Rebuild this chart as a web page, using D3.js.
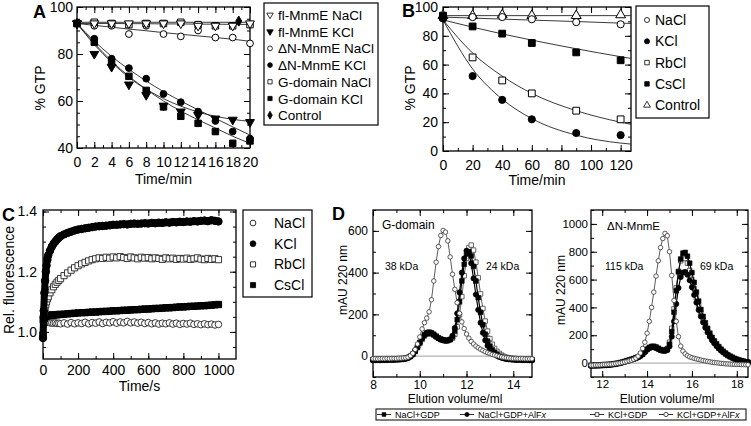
<!DOCTYPE html>
<html>
<head>
<meta charset="utf-8">
<script src="https://cdn.jsdelivr.net/npm/d3@7"></script>
<style>
  body { margin: 0; background: #fff; }
  svg { display: block; }
</style>
</head>
<body>
<div id="fig"></div>
<script>
// ---------- Panel A: % GTP vs time (min) ----------
var aTime = [0, 2, 4, 6, 8, 10, 12, 14, 16, 18, 20];
var aFlNa = [93, 93, 93, 93, 93, 93, 93, 92, 92, 92, 93];
var aFlK = [93, 80, 74.5, 67, 62.5, 58, 55.5, 54, 52.5, 52, 51];
var aDnNa = [93, 92, 92, 88.5, 92, 88.5, 87.5, 90, 87, 87, 84.5];
var aDnK = [93, 86.5, 78, 74, 69.5, 63, 59.5, 55.5, 51.5, 47, 44];
var aGNa = [93, 93.5, 93, 92.5, 93, 93, 93.5, 92.5, 92, 92, 92.5];
var aGK = [93, 85, 76.5, 70.5, 64.5, 57.5, 53.5, 50.5, 47, 42, 43];
var aCtrlTime = [0, 18.7];
var aCtrl = [93, 94];
// fitted curves
var aFitFlK = [93, 84, 76.5, 70, 65, 61, 57.8, 55.3, 53.5, 52.2, 51.3];
var aFitDnK = [93, 85.5, 79, 73.5, 68.5, 64, 60, 56.2, 52.6, 49, 45.5];
var aFitGK = [93, 84.5, 77, 70.5, 65, 60, 55.7, 52, 48.5, 45, 42];
var aFitDnNa = [93, 92.2, 91.4, 90.6, 89.9, 89.1, 88.4, 87.7, 87, 86.3, 85.4];
var aFitFlNa = [93, 93, 93, 92.9, 92.9, 92.8, 92.8, 92.7, 92.7, 92.6, 92.6];
var aFitGNa = [93.5, 93.5, 93.5, 93.5, 93.5, 93.5, 93.5, 93.5, 93.5, 93.5, 93.5];

// ---------- Panel B ----------
var bTime = [0, 20, 40, 60, 90, 120];
var bNa = [93, 93, 93, 91.5, 89.5, 88];
var bK = [92, 52, 35.5, 22, 12.5, 11];
var bRb = [93, 65, 49, 40, 28, 22];
var bCs = [94, 86.5, 81.5, 75, 68.5, 63];
var bCtrl = [94, 94, 94.5, 94, 94, 94.5];
var bFitTime = [0, 20, 40, 60, 90, 120, 127];
var bFitNa = [93, 92.3, 91.6, 90.9, 89.9, 88.8, 88.6];
var bFitK = [91, 57, 36, 22.5, 11, 5.5, 4.8];
var bFitRb = [91, 68, 52, 40, 28, 20, 18.5];
var bFitCs = [91, 86, 81.3, 77, 71, 65.5, 64.3];
var bFitCtrl = [94, 94, 94, 94, 94, 94, 94];

// ---------- Panel C: relative fluorescence vs time (s) ----------
var cTime = [0, 4, 8, 12, 16, 20, 25, 30, 40, 50, 60, 70, 80, 90, 100,
  120, 140, 160, 180, 200, 220, 240, 260, 280, 300, 320, 340, 360, 380, 400,
  420, 440, 460, 480, 500, 520, 540, 560, 580, 600, 620, 640, 660, 680, 700,
  720, 740, 760, 780, 800, 820, 840, 860, 880, 900, 920, 940, 960, 980, 1000];
var cK = [0.98, 1.07, 1.13, 1.17, 1.2, 1.22, 1.24, 1.255, 1.27, 1.283, 1.293, 1.3, 1.307, 1.313, 1.318,
  1.324, 1.329, 1.333, 1.337, 1.34, 1.342, 1.344, 1.346, 1.348, 1.35, 1.351, 1.352, 1.353, 1.354, 1.356,
  1.356, 1.357, 1.358, 1.357, 1.359, 1.36, 1.359, 1.36, 1.361, 1.36, 1.362, 1.361, 1.363, 1.362, 1.364,
  1.363, 1.365, 1.364, 1.366, 1.365, 1.367, 1.366, 1.368, 1.367, 1.369, 1.37, 1.368, 1.371, 1.369, 1.367];
var cRb = [1.04, 1.06, 1.07, 1.08, 1.09, 1.1, 1.11, 1.117, 1.13, 1.14, 1.15, 1.158, 1.165, 1.171, 1.177,
  1.187, 1.196, 1.205, 1.213, 1.22, 1.226, 1.231, 1.236, 1.24, 1.243, 1.246, 1.244, 1.248, 1.245, 1.249,
  1.246, 1.25, 1.247, 1.244, 1.249, 1.246, 1.243, 1.248, 1.245, 1.247, 1.243, 1.246, 1.244, 1.241, 1.246,
  1.243, 1.245, 1.241, 1.244, 1.242, 1.245, 1.241, 1.243, 1.246, 1.242, 1.24, 1.244, 1.241, 1.243, 1.24];
var cCs = [0.99, 1.03, 1.045, 1.05, 1.052, 1.053, 1.054, 1.055, 1.055, 1.056, 1.056, 1.057, 1.057, 1.058, 1.058,
  1.059, 1.06, 1.061, 1.062, 1.063, 1.064, 1.064, 1.065, 1.066, 1.066, 1.067, 1.068, 1.068, 1.069, 1.07,
  1.07, 1.071, 1.072, 1.072, 1.073, 1.074, 1.074, 1.075, 1.076, 1.076, 1.077, 1.078, 1.078, 1.079, 1.08,
  1.08, 1.081, 1.082, 1.083, 1.083, 1.084, 1.085, 1.085, 1.086, 1.087, 1.087, 1.088, 1.089, 1.09, 1.091];
var cNa = [1.05, 1.045, 1.04, 1.038, 1.036, 1.035, 1.033, 1.032, 1.03, 1.03, 1.029, 1.03, 1.028, 1.029, 1.027,
  1.03, 1.026, 1.031, 1.027, 1.03, 1.028, 1.032, 1.027, 1.031, 1.029, 1.033, 1.028, 1.032, 1.03, 1.034,
  1.029, 1.033, 1.03, 1.035, 1.03, 1.033, 1.029, 1.032, 1.028, 1.031, 1.027, 1.03, 1.026, 1.029, 1.027,
  1.03, 1.026, 1.029, 1.025, 1.028, 1.026, 1.029, 1.025, 1.027, 1.024, 1.027, 1.024, 1.026, 1.023, 1.025];

// ---------- Panel D: elution profiles (mAU 220 nm) ----------
// G-domain, 8.0 .. 14.8 ml every 0.1 ml
var gVol = d3.range(0, 69).map(function (i) { return +(8 + i * 0.1).toFixed(1); });
var gNaGdp = [-18, -18, -18, -17, -18, -17, -17, -17, -16, -16,
  -16, -15, -14, -13, -11, -7, -1, 9, 24, 44,
  66, 87, 103, 112, 115, 112, 105, 96, 88, 82,
  78, 76, 76, 80, 92, 120, 175, 260, 360, 440,
  490, 500, 480, 430, 360, 280, 210, 150, 105, 72,
  48, 30, 18, 8, 0, -5, -9, -12, -14, -15,
  -16, -16, -17, -17, -17, -18, -18, -18, -18];
var gNaAlf = [-20, -20, -19, -20, -19, -19, -19, -18, -18, -18,
  -17, -17, -16, -15, -13, -9, -3, 7, 22, 42,
  63, 84, 100, 109, 112, 109, 102, 93, 85, 79,
  75, 73, 74, 80, 98, 135, 205, 305, 400, 468,
  505, 492, 445, 372, 295, 222, 160, 112, 76, 50,
  32, 19, 9, 2, -4, -8, -11, -14, -15, -16,
  -17, -18, -18, -18, -19, -19, -19, -20, -20];
var gKGdp = [-15, -15, -14, -15, -14, -14, -14, -13, -13, -13,
  -13, -12, -12, -11, -9, -6, 0, 9, 22, 40,
  60, 80, 96, 105, 108, 106, 100, 92, 85, 80,
  77, 75, 75, 78, 86, 104, 140, 198, 285, 385,
  468, 520, 532, 508, 450, 375, 298, 228, 168, 120,
  84, 57, 37, 23, 13, 5, -1, -5, -8, -10,
  -11, -12, -13, -13, -14, -14, -14, -15, -15];
var gKAlf = [-12, -12, -13, -12, -12, -12, -11, -12, -11, -11,
  -11, -10, -10, -9, -8, -5, 2, 14, 32, 58,
  92, 130, 160, 182, 212, 270, 360, 450, 525, 578,
  602, 594, 552, 475, 392, 320, 256, 205, 164, 132,
  106, 86, 70, 58, 48, 40, 33, 27, 21, 16,
  12, 8, 5, 2, -1, -4, -6, -8, -9, -10,
  -11, -11, -12, -12, -12, -13, -13, -13, -13];

// ΔN-MnmE, 11.5 .. 18.5 ml every 0.1 ml
var nVol = d3.range(0, 71).map(function (i) { return +(11.5 + i * 0.1).toFixed(1); });
var nNaGdp = [-18, -18, -17, -17, -16,
  -15, -14, -13, -12, -10, -8, -5, -2, 2, 6,
  11, 16, 21, 26, 31, 37, 44, 53, 65, 82,
  100, 113, 120, 121, 116, 107, 98, 93, 92, 100,
  135, 225, 365, 520, 655, 748, 790, 795, 768, 718,
  650, 580, 510, 445, 385, 335, 290, 250, 215, 185,
  160, 138, 118, 100, 85, 72, 60, 50, 42, 34,
  28, 22, 17, 13, 9, 6];
var nNaAlf = [-20, -19, -19, -18, -18,
  -17, -16, -15, -14, -12, -10, -7, -4, 0, 4,
  9, 14, 19, 24, 29, 35, 42, 51, 63, 79,
  96, 108, 114, 114, 109, 101, 93, 88, 87, 93,
  120, 190, 300, 425, 540, 618, 650, 655, 635, 595,
  545, 490, 435, 382, 335, 292, 254, 220, 190, 164,
  142, 122, 105, 90, 77, 65, 55, 46, 38, 31,
  25, 20, 16, 12, 9, 6];
var nKGdp = [-14, -14, -13, -13, -12,
  -11, -10, -9, -8, -6, -4, -2, 1, 4, 8,
  12, 17, 22, 27, 32, 38, 45, 54, 66, 82,
  98, 108, 114, 114, 109, 101, 94, 90, 92, 105,
  150, 250, 390, 540, 660, 735, 762, 752, 718, 665,
  600, 535, 470, 410, 355, 308, 266, 230, 198, 170,
  146, 125, 107, 91, 77, 65, 54, 45, 37, 30,
  24, 19, 15, 11, 8, 5];
var nKAlf = [-15, -15, -14, -14, -13,
  -12, -11, -10, -9, -8, -6, -4, -2, 1, 4,
  8, 12, 16, 21, 27, 36, 50, 72, 105, 150,
  215, 300, 400, 510, 625, 735, 830, 895, 932, 915,
  800, 630, 450, 300, 190, 122, 86, 66, 53, 45,
  39, 34, 30, 26, 22, 18, 15, 12, 9, 6,
  4, 2, 0, -2, -3, -5, -6, -7, -8, -9,
  -10, -10, -11, -11, -12, -12];

// ---------- drawing ----------
var FONT = "'Liberation Sans', Arial, Helvetica, sans-serif";

var svg = d3.select("#fig")
  .append("svg")
  .attr("width", 751)
  .attr("height", 426)
  .style("font-family", FONT);

svg.append("rect").attr("width", 751).attr("height", 426).attr("fill", "#fff");

function makePanel(p) {
  var g = svg.append("g").attr("transform", `translate(${p.left},${p.top})`);
  var x = d3.scaleLinear().domain(p.xDomain).range([0, p.width]);
  var y = d3.scaleLinear().domain(p.yDomain).range([p.height, 0]);

  function tidy(sel) {
    sel.select(".domain").remove();
    sel.attr("font-family", null).attr("font-size", p.fontSize);
    sel.selectAll("line").attr("stroke-width", 1);
  }

  // minor ticks, all four sides, pointing in
  g.append("g").attr("transform", `translate(0,${p.height})`)
    .call(d3.axisBottom(x).tickValues(p.xMinor).tickSize(-3).tickFormat("")).call(tidy);
  g.append("g")
    .call(d3.axisTop(x).tickValues(p.xMinor).tickSize(-3).tickFormat("")).call(tidy);
  g.append("g")
    .call(d3.axisLeft(y).tickValues(p.yMinor).tickSize(-3).tickFormat("")).call(tidy);
  g.append("g").attr("transform", `translate(${p.width},0)`)
    .call(d3.axisRight(y).tickValues(p.yMinor).tickSize(-3).tickFormat("")).call(tidy);

  // major ticks with labels
  g.append("g").attr("transform", `translate(0,${p.height})`)
    .call(d3.axisBottom(x).tickValues(p.xMajor).tickSize(-6).tickPadding(p.xPad).tickFormat(p.xFmt)).call(tidy);
  g.append("g")
    .call(d3.axisTop(x).tickValues(p.xMajor).tickSize(-6).tickFormat("")).call(tidy);
  g.append("g")
    .call(d3.axisLeft(y).tickValues(p.yMajor).tickSize(-6).tickPadding(p.yPad).tickFormat(p.yFmt)).call(tidy);
  g.append("g").attr("transform", `translate(${p.width},0)`)
    .call(d3.axisRight(y).tickValues(p.yMajor).tickSize(-6).tickFormat("")).call(tidy);

  g.append("rect")
    .attr("width", p.width).attr("height", p.height)
    .attr("fill", "none").attr("stroke", "#000").attr("stroke-width", 1.3);

  return { g: g, x: x, y: y };
}

function drawLine(P, xs, ys, o) {
  o = o || {};
  P.g.append("path").datum(xs)
    .attr("d", d3.line()
      .x(function (d) { return P.x(d); })
      .y(function (d, i) { return P.y(ys[i]); })
      .curve(o.curve || d3.curveLinear))
    .attr("fill", "none")
    .attr("stroke", o.stroke || "#000")
    .attr("stroke-width", o.sw || 1)
    .attr("stroke-linecap", o.cap || "butt")
    .attr("stroke-linejoin", "round");
}

function drawMarks(P, xs, ys, o) {
  P.g.append("g").selectAll("path").data(xs).join("path")
    .attr("d", d3.symbol().type(o.type).size(o.size))
    .attr("transform", function (d, i) {
      return `translate(${P.x(d)},${P.y(ys[i])})` + (o.rot ? " rotate(180)" : "");
    })
    .attr("fill", o.fill ? "#000" : "#fff")
    .attr("stroke", o.stroke || "#000")
    .attr("stroke-width", o.sw || 1);
}

function label(txt, x, y, size, opts) {
  opts = opts || {};
  var t = svg.append("text")
    .attr("x", x).attr("y", y)
    .attr("font-size", size)
    .attr("text-anchor", opts.anchor || "start")
    .attr("font-weight", opts.bold ? "bold" : null)
    .text(txt);
  return t;
}

function vlabel(txt, cx, cy, size) {
  svg.append("text")
    .attr("transform", `translate(${cx},${cy}) rotate(-90)`)
    .attr("text-anchor", "middle")
    .attr("dy", "0.35em")
    .attr("font-size", size)
    .text(txt);
}

var tri = d3.symbolTriangle, cir = d3.symbolCircle, sq = d3.symbolSquare, dia = d3.symbolDiamond;

// ===== Panel A =====
var A = makePanel({
  left: 77, top: 7, width: 173, height: 141,
  xDomain: [0, 20], yDomain: [40, 100],
  xMajor: d3.range(0, 21, 2), xMinor: d3.range(0, 21, 1),
  yMajor: [40, 60, 80, 100], yMinor: d3.range(40, 101, 5),
  xFmt: d3.format("d"), yFmt: d3.format("d"),
  xPad: 9, yPad: 4, fontSize: 14
});
var smooth = d3.curveMonotoneX;
[aFitFlNa, aFitGNa, aFitDnNa, aFitFlK, aFitDnK, aFitGK].forEach(function (f) {
  drawLine(A, aTime, f, { curve: smooth, sw: 0.9, stroke: "#222" });
});
drawMarks(A, aTime, aDnNa, { type: cir, size: 36 });
drawMarks(A, aTime, aGNa, { type: sq, size: 42 });
drawMarks(A, aTime, aFlNa, { type: tri, size: 34, rot: true });
drawMarks(A, aTime, aDnK, { type: cir, size: 36, fill: true });
drawMarks(A, aTime, aGK, { type: sq, size: 42, fill: true });
drawMarks(A, aTime, aFlK, { type: tri, size: 34, rot: true, fill: true });
drawMarks(A, aCtrlTime, aCtrl, { type: dia, size: 30, fill: true });

label("A", 33, 18, 18, { bold: true });
label("Time/min", 163.5, 184, 14, { anchor: "middle" });
vlabel("% GTP", 40, 88, 14);

// legend A
var legA = [
  ["fl-MnmE NaCl", tri, false, true],
  ["fl-MnmE KCl", tri, true, true],
  ["\u0394N-MnmE NaCl", cir, false, false],
  ["\u0394N-MnmE KCl", cir, true, false],
  ["G-domain NaCl", sq, false, false],
  ["G-domain KCl", sq, true, false],
  ["Control", dia, true, false]
];
svg.append("rect").attr("x", 264).attr("y", 3).attr("width", 114).attr("height", 122)
  .attr("fill", "#fff").attr("stroke", "#000").attr("stroke-width", 1.2);
legA.forEach(function (e, i) {
  var cy = 15 + i * 16.7;
  svg.append("path")
    .attr("d", d3.symbol().type(e[1]).size(18)())
    .attr("transform", `translate(270,${cy})` + (e[3] ? " rotate(180)" : ""))
    .attr("fill", e[2] ? "#000" : "#fff").attr("stroke", "#000").attr("stroke-width", 0.8);
  label(e[0], 278, cy + 5, 13.5);
});

// ===== Panel B =====
var B = makePanel({
  left: 443, top: 7, width: 188, height: 144,
  xDomain: [0, 127], yDomain: [0, 100],
  xMajor: d3.range(0, 121, 20), xMinor: d3.range(0, 127, 10),
  yMajor: d3.range(0, 101, 20), yMinor: d3.range(0, 101, 10),
  xFmt: d3.format("d"), yFmt: d3.format("d"),
  xPad: 9, yPad: 5, fontSize: 14
});
[bFitCtrl, bFitNa, bFitCs, bFitRb, bFitK].forEach(function (f) {
  drawLine(B, bFitTime, f, { curve: smooth, sw: 0.9, stroke: "#222" });
});
drawMarks(B, bTime, bCtrl, { type: tri, size: 42 });
drawMarks(B, bTime, bNa, { type: cir, size: 40 });
drawMarks(B, bTime, bRb, { type: sq, size: 46 });
drawMarks(B, bTime, bCs, { type: sq, size: 46, fill: true });
drawMarks(B, bTime, bK, { type: cir, size: 40, fill: true });

label("B", 402, 17, 18, { bold: true });
label("Time/min", 537, 185, 14, { anchor: "middle" });
vlabel("% GTP", 410, 88, 14);

var legB = [
  ["NaCl", cir, false], ["KCl", cir, true], ["RbCl", sq, false],
  ["CsCl", sq, true], ["Control", tri, false]
];
svg.append("rect").attr("x", 636).attr("y", 6).attr("width", 73).attr("height", 112)
  .attr("fill", "#fff").attr("stroke", "#000").attr("stroke-width", 1.2);
legB.forEach(function (e, i) {
  var cy = 20 + i * 21.3;
  svg.append("path")
    .attr("d", d3.symbol().type(e[1]).size(20)())
    .attr("transform", `translate(647,${cy})`)
    .attr("fill", e[2] ? "#000" : "#fff").attr("stroke", "#000").attr("stroke-width", 0.8);
  label(e[0], 655, cy + 5, 14);
});

// ===== Panel C =====
var C = makePanel({
  left: 43, top: 210, width: 193, height: 149,
  xDomain: [0, 1100], yDomain: [0.91, 1.405],
  xMajor: d3.range(0, 1001, 200), xMinor: d3.range(0, 1100, 100),
  yMajor: [1.0, 1.2, 1.4], yMinor: [0.95, 1.0, 1.05, 1.1, 1.15, 1.2, 1.25, 1.3, 1.35, 1.4],
  xFmt: d3.format("d"), yFmt: d3.format(".1f"),
  xPad: 6, yPad: 6, fontSize: 14
});
drawMarks(C, cTime, cNa, { type: cir, size: 34, stroke: "#222", sw: 0.9 });
drawLine(C, cTime, cCs, { sw: 6, cap: "round" });
drawMarks(C, cTime, cCs, { type: sq, size: 40, fill: true });
drawMarks(C, cTime, cRb, { type: sq, size: 38, stroke: "#222", sw: 0.9 });
drawLine(C, cTime, cK, { sw: 7, cap: "round" });
drawMarks(C, cTime, cK, { type: cir, size: 44, fill: true });

label("C", 2, 221, 18, { bold: true });
label("Time/s", 139.5, 391, 14, { anchor: "middle" });
vlabel("Rel. fluorescence", 9, 280, 14);

var legC = [["NaCl", cir, false], ["KCl", cir, true], ["RbCl", sq, false], ["CsCl", sq, true]];
svg.append("rect").attr("x", 243).attr("y", 210).attr("width", 69).attr("height", 87)
  .attr("fill", "#fff").attr("stroke", "#000").attr("stroke-width", 1.2);
legC.forEach(function (e, i) {
  var cy = 223 + i * 20.7;
  svg.append("path")
    .attr("d", d3.symbol().type(e[1]).size(26)())
    .attr("transform", `translate(253,${cy})`)
    .attr("fill", e[2] ? "#000" : "#fff").attr("stroke", "#000").attr("stroke-width", 0.8);
  label(e[0], 274, cy + 5, 14);
});

// ===== Panel D =====
function elution(P, vol, series) {
  P.g.append("line")
    .attr("x1", 0).attr("x2", P.x.range()[1])
    .attr("y1", P.y(0)).attr("y2", P.y(0))
    .attr("stroke", "#888").attr("stroke-width", 0.8);
  // open squares first, then filled, then the open-circle trace on top
  drawLine(P, vol, series.kGdp, { sw: 0.8, stroke: "#333" });
  drawMarks(P, vol, series.kGdp, { type: sq, size: 20, stroke: "#444", sw: 0.8 });
  drawLine(P, vol, series.naGdp, { sw: 1.2 });
  drawMarks(P, vol, series.naGdp, { type: sq, size: 22, fill: true, sw: 0.6 });
  drawLine(P, vol, series.naAlf, { sw: 1.2 });
  drawMarks(P, vol, series.naAlf, { type: cir, size: 22, fill: true, sw: 0.6 });
  drawLine(P, vol, series.kAlf, { sw: 0.8, stroke: "#333" });
  drawMarks(P, vol, series.kAlf, { type: cir, size: 16, stroke: "#333", sw: 0.8 });
}

var D1 = makePanel({
  left: 373, top: 210, width: 159, height: 167,
  xDomain: [8, 14.8], yDomain: [-100, 700],
  xMajor: [8, 10, 12, 14], xMinor: d3.range(8, 15, 1),
  yMajor: [0, 200, 400, 600], yMinor: d3.range(-100, 701, 100),
  xFmt: d3.format("d"), yFmt: d3.format("d"),
  xPad: 3, yPad: 5, fontSize: 12
});
elution(D1, gVol, { naGdp: gNaGdp, naAlf: gNaAlf, kGdp: gKGdp, kAlf: gKAlf });

var D2 = makePanel({
  left: 591, top: 210, width: 157, height: 167,
  xDomain: [11.5, 18.5], yDomain: [-100, 1100],
  xMajor: [12, 14, 16, 18], xMinor: d3.range(12, 19, 1),
  yMajor: [0, 200, 400, 600, 800, 1000], yMinor: d3.range(-100, 1101, 100),
  xFmt: d3.format("d"), yFmt: d3.format("d"),
  xPad: 3, yPad: 3, fontSize: 11.5
});
elution(D2, nVol, { naGdp: nNaGdp, naAlf: nNaAlf, kGdp: nKGdp, kAlf: nKAlf });

label("D", 332, 220, 18, { bold: true });
label("G-domain", 382, 229, 12);
label("38 kDa", 385, 270, 10.5);
label("24 kDa", 486, 270, 10.5);
label("\u0394N-MnmE", 607, 230, 11.5);
label("115 kDa", 605, 270, 10.5);
label("69 kDa", 700, 270, 10.5);
vlabel("mAU 220 nm", 343, 280, 12);
vlabel("mAU 220 nm", 561, 290, 12);
label("Elution volume/ml", 455, 402.5, 12, { anchor: "middle" });
label("Elution volume/ml", 667, 402.5, 12, { anchor: "middle" });

// legend D
svg.append("rect").attr("x", 376).attr("y", 409).attr("width", 370).attr("height", 11)
  .attr("fill", "#fff").attr("stroke", "#000").attr("stroke-width", 1);
var legD = [
  { name: "NaCl+GDP", type: sq, fill: true, x: 384 },
  { name: "NaCl+GDP+AlF", type: cir, fill: true, x: 467, it: true },
  { name: "KCl+GDP", type: sq, fill: false, x: 597 },
  { name: "KCl+GDP+AlF", type: cir, fill: false, x: 666, it: true }
];
legD.forEach(function (e) {
  var cy = 414.5;
  svg.append("line").attr("x1", e.x - 7).attr("x2", e.x + 7).attr("y1", cy).attr("y2", cy)
    .attr("stroke", "#000").attr("stroke-width", 0.8);
  svg.append("path")
    .attr("d", d3.symbol().type(e.type).size(14)())
    .attr("transform", `translate(${e.x},${cy})`)
    .attr("fill", e.fill ? "#000" : "#fff").attr("stroke", "#000").attr("stroke-width", 0.7);
  var t = label(e.name, e.x + 11, cy + 3.2, 9);
  if (e.it) t.append("tspan").attr("font-style", "italic").text("x");
});
</script>
</body>
</html>
